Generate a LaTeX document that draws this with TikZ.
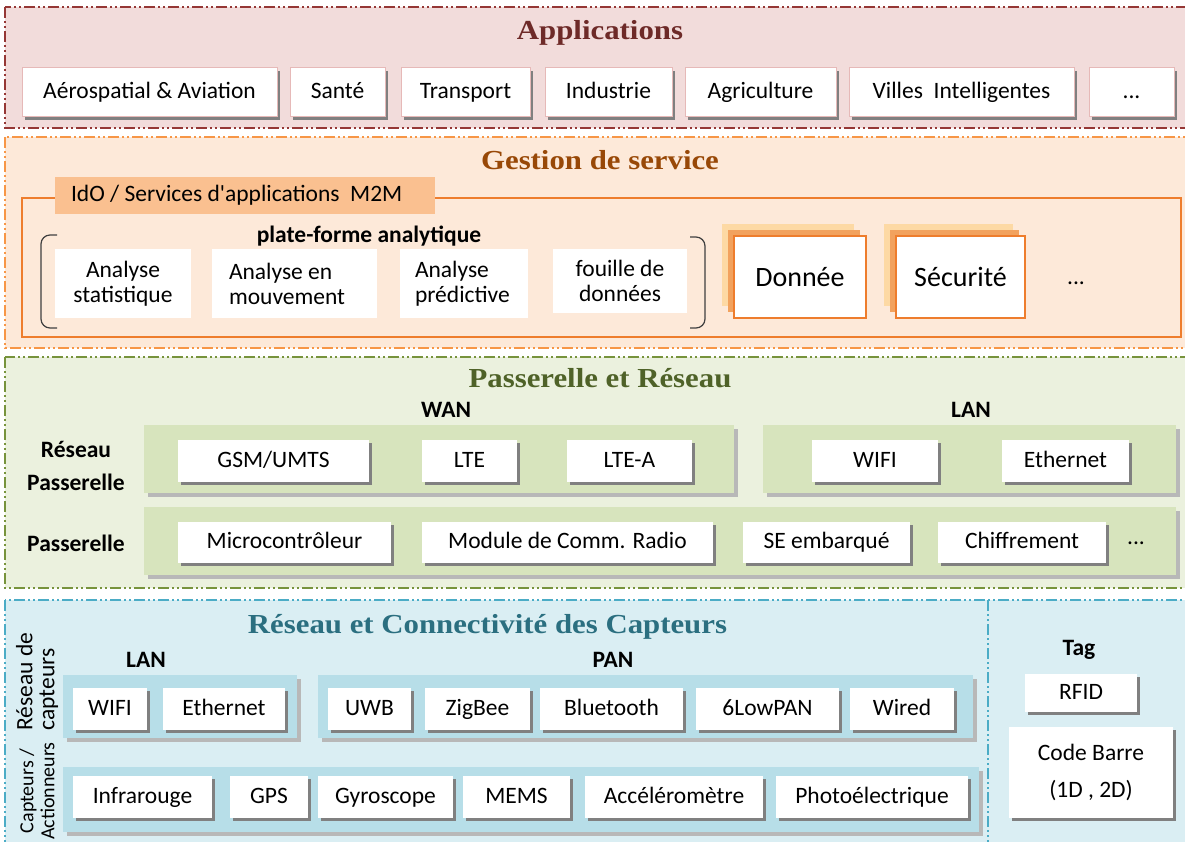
\documentclass[tikz,border=0pt]{standalone}
\usepackage{fontspec}
\setmainfont{Carlito}[Ligatures=TeXOff]
\newfontfamily\titlefont{Liberation Serif}[FakeStretch=1.12]
\usetikzlibrary{shadows}

% layer colours
\definecolor{appfill}{HTML}{F2DCDB}
\definecolor{appline}{HTML}{953735}
\definecolor{apptitle}{HTML}{6E2A28}
\definecolor{appbox}{HTML}{E6B9B8}
\definecolor{srvfill}{HTML}{FDE9D9}
\definecolor{srvline}{HTML}{F79646}
\definecolor{srvtitle}{HTML}{984807}
\definecolor{frameorange}{HTML}{EE7D2D}
\definecolor{idofill}{HTML}{FAC090}
\definecolor{cardback}{HTML}{FDD9A4}
\definecolor{cardmid}{HTML}{F2A25E}
\definecolor{gwfill}{HTML}{EBF1DE}
\definecolor{gwline}{HTML}{77933C}
\definecolor{gwtitle}{HTML}{4F6228}
\definecolor{gwpanel}{HTML}{D7E4BD}
\definecolor{snfill}{HTML}{DAEEF3}
\definecolor{snline}{HTML}{4BACC6}
\definecolor{sntitle}{HTML}{2B6F80}
\definecolor{snpanel}{HTML}{B7DEE8}

\begin{document}
\begin{tikzpicture}[x=1pt,y=-1pt,
  font=\fontsize{23.5}{25}\selectfont,
  layer/.style={line width=1.5pt,
    dash pattern=on 11pt off 3pt on 2pt off 3pt on 2pt off 3pt},
  title/.style={font=\titlefont\bfseries\fontsize{27.5}{30}\selectfont},
  head/.style={font=\bfseries\fontsize{23.5}{25}\selectfont},
  dim/.style 2 args={minimum width=#1pt, minimum height=#2pt},
  shadowed/.style={fill=white, inner sep=0pt, align=center,
    drop shadow={shadow xshift=3pt, shadow yshift=-3pt, fill=black!50, opacity=1}},
  cell/.style={shadowed, text height=15pt, text depth=3pt},
  appcell/.style={cell, draw=appbox, line width=1pt},
  plain/.style={fill=white, inner sep=0pt},
  panel/.style={fill=#1, inner sep=0pt,
    drop shadow={shadow xshift=4pt, shadow yshift=-4pt, fill=black!28, opacity=1}},
  card/.style={fill=white, draw=frameorange, line width=1.5pt, inner sep=0pt,
    font=\fontsize{28}{30}\selectfont,
    general shadow={shadow xshift=-12pt, shadow yshift=12pt, fill=cardback, draw=none},
    general shadow={shadow xshift=-6pt, shadow yshift=6pt, fill=cardmid, draw=none}},
  bracket/.style={draw=black!75, line width=1.2pt, rounded corners=9pt},
  sidelabel/.style={rotate=90, font=\fontsize{23.5}{22}\selectfont}]

  \useasboundingbox (0,0) rectangle (1185,842);
  \clip (0,0) rectangle (1185,842);

  % Applications
  \draw[layer, draw=appline, fill=appfill] (5,7) rectangle (1195,128);
  \node[title, text=apptitle, anchor=base] (apptitle) at (600,40) {Applications};
  \node[appcell, dim={255}{49}] (aero) at (149.5,92.5) {Aérospatial \& Aviation};
  \node[appcell, dim={95}{49}] (sante) at (337.5,92.5) {Santé};
  \node[appcell, dim={129}{49}] (transport) at (465.5,92.5) {Transport};
  \node[appcell, dim={127}{49}] (industrie) at (608.5,92.5) {Industrie};
  \node[appcell, dim={151}{49}] (agri) at (760.5,92.5) {Agriculture};
  \node[appcell, dim={225}{49}] (villes) at (961.5,92.5) {Villes~ Intelligentes};
  \node[appcell, dim={85}{49}] (appmore) at (1131.5,92.5) {...};

  % Gestion de service
  \draw[layer, draw=srvline, fill=srvfill] (5,137) rectangle (1195,348);
  \node[title, text=srvtitle, anchor=base] (srvtitle) at (600,170) {Gestion de service};
  \draw[draw=frameorange, line width=1.5pt] (22,198) rectangle (1181,337);
  \node[fill=idofill, inner xsep=16pt, inner ysep=0pt, text width=348pt,
    minimum height=37pt, align=flush left] (ido) at (245,195.5)
    {IdO / Services d'applications~ M2M};
  \node[head] (platform) at (369,236) {plate-forme analytique};
  \draw[bracket] (57,235) -- (41,235) -- (41,328) -- (57,328);
  \draw[bracket] (690,237) -- (705,237) -- (705,328) -- (690,328);
  \node[plain, dim={136}{69}, align=center] (stat) at (123,283.5) {Analyse\\statistique};
  \node[plain, minimum height=69pt, inner xsep=17pt, text width=131pt, align=flush left]
    (mouv) at (294.5,283.5) {Analyse en\\mouvement};
  \node[plain, minimum height=69pt, inner xsep=15pt, text width=98pt, align=flush left]
    (pred) at (464,283.5) {Analyse\\prédictive};
  \node[plain, dim={134}{64}, align=center] (fouille) at (620,281) {fouille de\\données};
  \node[card, dim={132}{82}] (donnee) at (800,277) {Donnée};
  \node[card, dim={129}{82}] (securite) at (960.5,277) {Sécurité};
  \node (srvmore) at (1076,283) {...};

  % Passerelle et Reseau
  \draw[layer, draw=gwline, fill=gwfill] (5,357) rectangle (1195,588);
  \node[title, text=gwtitle, anchor=base] (gwtitle) at (600,387) {Passerelle et Réseau};
  \node[head] (wan) at (446,410) {WAN};
  \node[head] (gwlan) at (971,410) {LAN};
  \node[panel=gwpanel, dim={590}{68}] (wanpanel) at (439,459) {};
  \node[panel=gwpanel, dim={413}{68}] (lanpanel) at (969.5,459) {};
  \node[panel=gwpanel, dim={1032}{68}] (gwpanel) at (660,541) {};
  \node[head, align=center, font=\bfseries\fontsize{23.5}{33}\selectfont]
    (gwnet) at (76,466) {Réseau\\Passerelle};
  \node[head] (gw) at (76,543) {Passerelle};
  \node[cell, dim={191}{42}] (gsm) at (273.5,461) {GSM/UMTS};
  \node[cell, dim={95}{42}] (lte) at (469.5,461) {LTE};
  \node[cell, dim={125}{42}] (ltea) at (629.5,461) {LTE-A};
  \node[cell, dim={126}{42}] (gwwifi) at (875,461) {WIFI};
  \node[cell, dim={127}{42}] (gweth) at (1065.5,461) {Ethernet};
  \node[cell, dim={213}{41}] (micro) at (284.5,542.5) {Microcontrôleur};
  \node[cell, dim={291}{41}] (radio) at (567.5,542.5) {Module de Comm. Radio};
  \node[cell, dim={167}{41}] (se) at (826.5,542.5) {SE embarqué};
  \node[cell, dim={168}{41}] (chiff) at (1022,542.5) {Chiffrement};
  \node (gwmore) at (1136,543) {...};

  % Reseau et Connectivite des Capteurs
  \draw[layer, draw=snline, fill=snfill] (5,600) rectangle (1195,860);
  \draw[layer, draw=snline] (988,600) -- (988,860);
  \node[title, text=sntitle, anchor=base] (sntitle) at (487.5,633)
    {Réseau et Connectivité des Capteurs};
  \node[sidelabel, anchor=west, align=left] (snnet) at (37,734) {Réseau de\\capteurs};
  \node[sidelabel, align=center, font=\fontsize{20}{21}\selectfont]
    (snact) at (37,791) {Capteurs /\\Actionneurs};
  \node[head] (snlan) at (146,660) {LAN};
  \node[head] (pan) at (613,660) {PAN};
  \node[head] (tag) at (1079,650) {Tag};
  \node[panel=snpanel, dim={234}{63}] (snlanpanel) at (180,706.5) {};
  \node[panel=snpanel, dim={655}{63}] (panpanel) at (645.5,706.5) {};
  \node[panel=snpanel, dim={916}{65}] (sensorpanel) at (521,799.5) {};
  \node[cell, dim={74}{42}] (snwifi) at (110,709) {WIFI};
  \node[cell, dim={122}{42}] (sneth) at (224,709) {Ethernet};
  \node[cell, dim={83}{42}] (uwb) at (369.5,709) {UWB};
  \node[cell, dim={105}{42}] (zigbee) at (477.5,709) {ZigBee};
  \node[cell, dim={143}{42}] (bluetooth) at (611.5,709) {Bluetooth};
  \node[cell, dim={143}{42}] (lowpan) at (767.5,709) {6LowPAN};
  \node[cell, dim={104}{42}] (wired) at (902,709) {Wired};
  \node[cell, dim={139}{42}] (infra) at (142.5,797) {Infrarouge};
  \node[cell, dim={78}{42}] (gps) at (269,797) {GPS};
  \node[cell, dim={135}{42}] (gyro) at (385.5,797) {Gyroscope};
  \node[cell, dim={107}{42}] (mems) at (516.5,797) {MEMS};
  \node[cell, dim={178}{42}] (accel) at (674,797) {Accéléromètre};
  \node[cell, dim={192}{42}] (photo) at (872,797) {Photoélectrique};
  \node[cell, dim={112}{38}] (rfid) at (1081,693) {RFID};
  \node[shadowed, dim={164}{91}, font=\fontsize{23.5}{37}\selectfont]
    (barcode) at (1091,772.5) {Code Barre\\(1D , 2D)};
\end{tikzpicture}
\end{document}
